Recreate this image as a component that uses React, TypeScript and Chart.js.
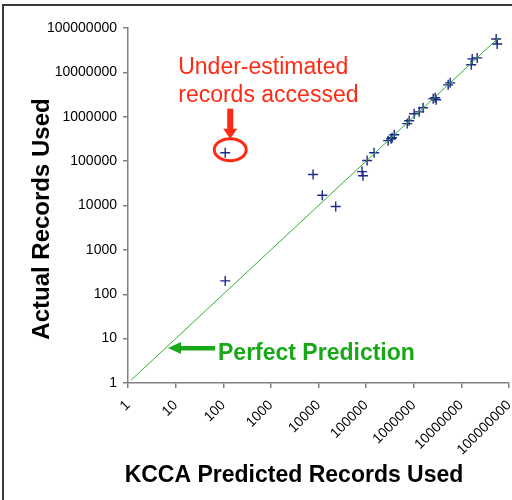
import React, { useEffect, useRef } from "react";
import { Chart, registerables } from "chart.js";

Chart.register(...registerables);

// KCCA predicted vs actual records used
const predicted = [
  110, 110, 7700, 12000, 23000, 82000, 86000, 105000, 147000, 290000, 350000,
  390000, 335000, 730000, 800000, 1020000, 1300000, 1570000, 2560000, 2820000,
  2960000, 5280000, 5820000, 16100000, 16900000, 21500000, 53800000, 56500000,
];
const actual = [
  155000, 200, 50000, 17000, 9500, 58000, 47000, 103000, 155000, 289000, 338000,
  394000, 320000, 700000, 813000, 1170000, 1290000, 1590000, 2530000, 2670000,
  2410000, 5240000, 5800000, 14800000, 20100000, 21200000, 56600000, 43700000,
];
const perfectLine = [1.15, 60000000];
const tickValues = [1, 10, 100, 1000, 10000, 100000, 1000000, 10000000, 100000000];
const tickLabels = ["1", "10", "100", "1000", "10000", "100000", "1000000", "10000000", "100000000"];
const highlightIndex = 0;
const xTitle = "KCCA Predicted Records Used";
const yTitle = "Actual Records Used";
const redNote = ["Under-estimated", "records accessed"];
const greenNote = "Perfect Prediction";

const FONT = "'Liberation Sans', Arial, Helvetica, sans-serif";

export default function App() {
  const ref = useRef<HTMLCanvasElement | null>(null);

  useEffect(() => {
    if (!ref.current) return;

    const annot = {
      id: "annot",
      beforeDraw(chart: any) {
        const ctx = chart.ctx;
        ctx.save();
        ctx.fillStyle = "#ffffff";
        ctx.fillRect(0, 0, chart.width, chart.height);
        ctx.strokeStyle = "#3a3a3a";
        ctx.lineWidth = 2;
        ctx.beginPath();
        ctx.moveTo(3, chart.height);
        ctx.lineTo(3, 5);
        ctx.lineTo(chart.width, 5);
        ctx.stroke();
        ctx.restore();
      },
      afterDraw(chart: any) {
        const ctx = chart.ctx;
        const xs = chart.scales.x;
        const ys = chart.scales.y;
        const ca = chart.chartArea;
        ctx.save();
        // axis titles
        ctx.fillStyle = "#000";
        ctx.font = `bold 23px ${FONT}`;
        ctx.textAlign = "center";
        ctx.textBaseline = "alphabetic";
        ctx.fillText(xTitle, 294, 482);
        ctx.save();
        ctx.translate(49, 219);
        ctx.rotate(-Math.PI / 2);
        ctx.font = `bold 24px ${FONT}`;
        ctx.fillText(yTitle, 0, 0);
        ctx.restore();

        // red annotation
        const px = xs.getPixelForValue(predicted[highlightIndex]);
        const py = ys.getPixelForValue(actual[highlightIndex]);
        const red = "#ff2a14";
        ctx.fillStyle = red;
        ctx.strokeStyle = red;
        ctx.font = `23px ${FONT}`;
        ctx.textAlign = "left";
        ctx.fillText(redNote[0], px - 47, py - 79);
        ctx.fillText(redNote[1], px - 47, py - 51);
        // ellipse
        ctx.lineWidth = 3;
        ctx.beginPath();
        ctx.ellipse(px + 5, py - 3, 16, 11, 0, 0, Math.PI * 2);
        ctx.stroke();
        // down arrow
        const ax = px + 5;
        ctx.fillRect(ax - 3, py - 44, 6, 22);
        ctx.beginPath();
        ctx.moveTo(ax - 7, py - 24);
        ctx.lineTo(ax + 7, py - 24);
        ctx.lineTo(ax, py - 14);
        ctx.closePath();
        ctx.fill();

        // green annotation
        const green = "#18a818";
        ctx.fillStyle = green;
        const gy = ca.bottom - 35;
        const tipX = ca.left + 40;
        ctx.fillRect(tipX + 10, gy - 2, 37, 4.5);
        ctx.beginPath();
        ctx.moveTo(tipX, gy);
        ctx.lineTo(tipX + 13, gy - 6);
        ctx.lineTo(tipX + 13, gy + 6);
        ctx.closePath();
        ctx.fill();
        ctx.font = `bold 23px ${FONT}`;
        ctx.textBaseline = "alphabetic";
        ctx.fillText(greenNote, tipX + 50, gy + 12);
        ctx.restore();
      },
    };

    const points = predicted.map((x, i) => ({ x, y: actual[i] }));
    const linePts = perfectLine.map((v) => ({ x: v, y: v }));

    const axisCommon = (axis: "x" | "y") => ({
      type: "logarithmic" as const,
      min: 1,
      max: 100000000,
      border: { display: true, color: "#808080", width: 1.5 },
      grid: {
        display: true,
        drawOnChartArea: false,
        drawTicks: true,
        tickLength: 5,
        color: "#808080",
        lineWidth: 1.5,
      },
      afterBuildTicks: (scale: any) => {
        scale.ticks = tickValues.map((v) => ({ value: v }));
      },
      ticks: {
        color: "#000",
        font: { family: FONT, size: 14 },
        padding: axis === "y" ? 6 : 9,
        autoSkip: false,
        maxRotation: axis === "x" ? 45 : 0,
        minRotation: axis === "x" ? 45 : 0,
        callback: (value: any) => {
          const i = tickValues.indexOf(Number(value));
          return i >= 0 ? tickLabels[i] : "";
        },
      },
      afterFit: (scale: any) => {
        if (axis === "y") scale.width = 128;
        else scale.height = 117;
        scale.paddingLeft = 0;
        scale.paddingRight = 0;
        scale.paddingTop = 0;
        scale.paddingBottom = 0;
      },
    });

    const chart = new Chart(ref.current, {
      type: "scatter",
      data: {
        datasets: [
          {
            type: "line",
            label: "Perfect Prediction",
            data: linePts,
            borderColor: "#2cb52c",
            borderWidth: 1,
            pointRadius: 0,
            showLine: true,
            fill: false,
          } as any,
          {
            label: "Queries",
            data: points,
            pointStyle: "cross",
            pointRadius: 5,
            borderColor: "#1c2a8a",
            backgroundColor: "#1c2a8a",
            borderWidth: 1.4,
          },
        ],
      },
      options: {
        responsive: false,
        animation: false,
        layout: { autoPadding: false, padding: { left: 0, top: 28, right: 3, bottom: 0 } },
        plugins: { legend: { display: false }, tooltip: { enabled: false } },
        scales: { x: axisCommon("x") as any, y: axisCommon("y") as any },
      },
      plugins: [annot],
    });
    return () => chart.destroy();
  }, []);

  return (
    <div style={{ position: "absolute", left: 0, top: 0, width: 512, height: 500 }}>
      <canvas ref={ref} width={512} height={500} style={{ display: "block" }} />
    </div>
  );
}
